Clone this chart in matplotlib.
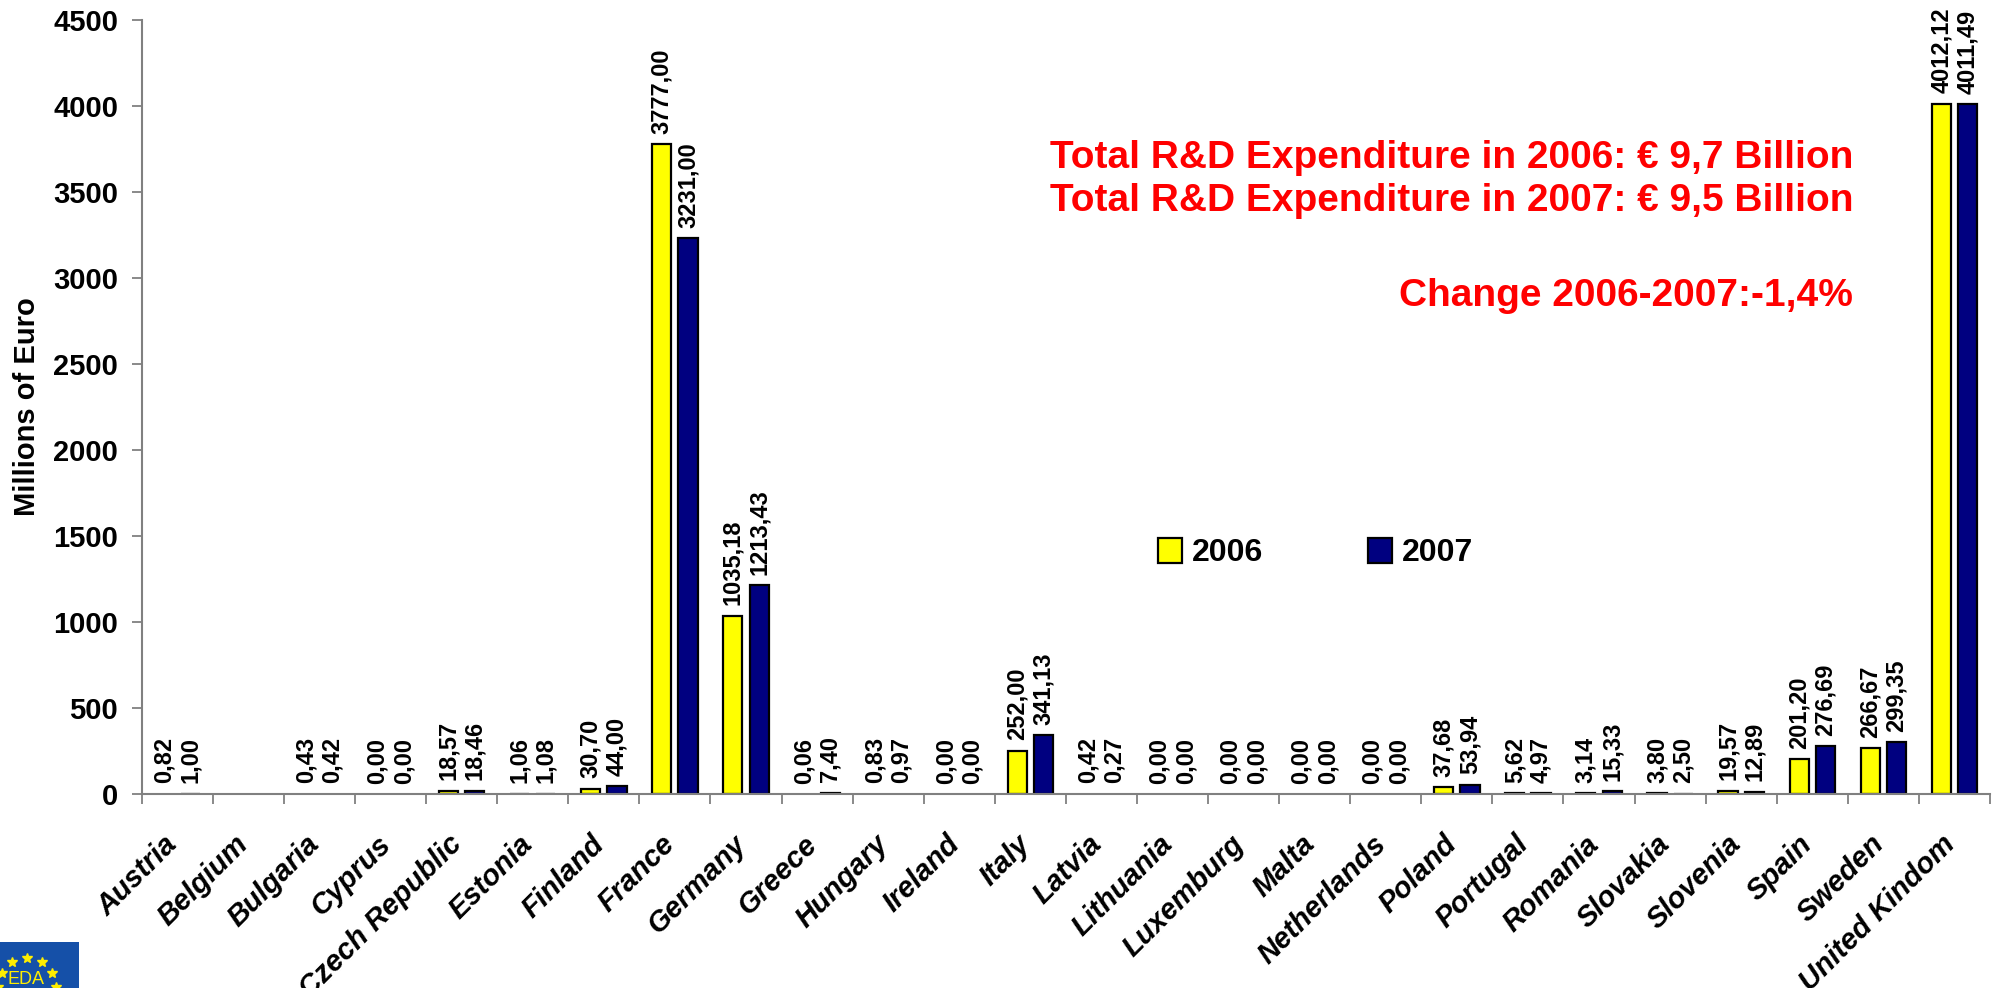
import matplotlib
matplotlib.use('Agg')
import matplotlib.pyplot as plt
import matplotlib.transforms as mtransforms
from matplotlib.patches import Patch
import numpy as np

plt.rcParams['font.family'] = ['Liberation Sans', 'DejaVu Sans']
plt.rcParams['font.weight'] = 'bold'

countries = ['Austria', 'Belgium', 'Bulgaria', 'Cyprus', 'Czech Republic', 'Estonia',
             'Finland', 'France', 'Germany', 'Greece', 'Hungary', 'Ireland', 'Italy',
             'Latvia', 'Lithuania', 'Luxemburg', 'Malta', 'Netherlands', 'Poland',
             'Portugal', 'Romania', 'Slovakia', 'Slovenia', 'Spain', 'Sweden',
             'United Kindom']
# Belgium has no data in the source chart
rd_2006 = [0.82, np.nan, 0.43, 0.00, 18.57, 1.06, 30.70, 3777.00, 1035.18, 0.06, 0.83,
           0.00, 252.00, 0.42, 0.00, 0.00, 0.00, 0.00, 37.68, 5.62, 3.14, 3.80, 19.57,
           201.20, 266.67, 4012.12]
rd_2007 = [1.00, np.nan, 0.42, 0.00, 18.46, 1.08, 44.00, 3231.00, 1213.43, 7.40, 0.97,
           0.00, 341.13, 0.27, 0.00, 0.00, 0.00, 0.00, 53.94, 4.97, 15.33, 2.50, 12.89,
           276.69, 299.35, 4011.49]
years = ['2006', '2007']
colors = ['#FFFF00', '#000080']
notes = ['Total R&D Expenditure in 2006: € 9,7 Billion',
         'Total R&D Expenditure in 2007: € 9,5 Billion',
         'Change 2006-2007:-1,4%']

fig = plt.figure(figsize=(19.93, 9.88), dpi=100)
ax = fig.add_axes([0.0711, 0.1964, 0.9274, 0.7834])

x = np.arange(len(countries))
w = 0.27
off = 0.185
for vals, shift, col in [(rd_2006, -off, colors[0]), (rd_2007, off, colors[1])]:
    v = np.array(vals, dtype=float)
    # tiny values show no bar outline in the original
    lw = np.where(np.nan_to_num(v) >= 1, 1.6, 0)
    ax.bar(x + shift, np.nan_to_num(v), w, color=col, edgecolor='black', linewidth=lw)
    for xi, vi in zip(x + shift, v):
        if np.isnan(vi):
            continue
        ax.annotate(f'{vi:.2f}'.replace('.', ','), (xi, vi), xytext=(0, 7.5),
                    textcoords='offset points', rotation=90, ha='center',
                    va='bottom', fontsize=17, fontweight='bold')

ax.set_xlim(-0.5, len(countries) - 0.5)
ax.set_ylim(0, 4500)
ax.set_yticks(np.arange(0, 4501, 500))
ax.tick_params(axis='y', labelsize=21, length=7, width=1.3, color='#808080', pad=10)
ax.set_xticks(x)
ax.set_xticklabels(countries, rotation=45, ha='right', va='top',
                   rotation_mode='anchor', fontsize=21, fontstyle='italic',
                   fontweight='bold')
ax.tick_params(axis='x', which='major', length=0, pad=26)
shift_lbl = mtransforms.ScaledTranslation(-0.14, 0, fig.dpi_scale_trans)
for lbl in ax.get_xticklabels():
    lbl.set_transform(lbl.get_transform() + shift_lbl)
ax.set_xticks(np.arange(-0.5, len(countries), 1), minor=True)
ax.tick_params(axis='x', which='minor', length=7, width=1.3, color='#808080')
for s in ['top', 'right']:
    ax.spines[s].set_visible(False)
for s in ['left', 'bottom']:
    ax.spines[s].set_color('#808080')
    ax.spines[s].set_linewidth(1.5)
ax.set_ylabel('Millions of Euro', fontsize=21, fontweight='bold')
ax.yaxis.set_label_coords(-0.0545, 0.5)

handles = [Patch(facecolor=c, edgecolor='black', linewidth=1.6, label=y)
           for c, y in zip(colors, years)]
ax.legend(handles=handles, loc='center', bbox_to_anchor=(0.635, 0.311), ncol=2,
          frameon=False, fontsize=23, handlelength=0.75, handleheight=0.8,
          handletextpad=0.3, columnspacing=3.3)

ax.text(0.926, 0.822, notes[0], transform=ax.transAxes, ha='right', va='center',
        color='red', fontsize=28, fontweight='bold')
ax.text(0.926, 0.766, notes[1], transform=ax.transAxes, ha='right', va='center',
        color='red', fontsize=28, fontweight='bold')
ax.text(0.926, 0.643, notes[2], transform=ax.transAxes, ha='right', va='center',
        color='red', fontsize=28, fontweight='bold')

# EDA logo in the bottom left corner
lg = fig.add_axes([0, 0, 79 / 1993, 46 / 988])
lg.set_xlim(0, 79)
lg.set_ylim(46, 0)
lg.set_facecolor('#1550A8')
lg.set_xticks([])
lg.set_yticks([])
for s in lg.spines.values():
    s.set_visible(False)
ang = np.deg2rad(np.arange(180, 361, 30))
lg.plot(27 + 29 * np.cos(ang), 45 + 29 * np.sin(ang), '*', color='#FFEE00',
        markersize=7, linestyle='none')
lg.text(26, 37, 'EDA', color='#FFEE00', fontsize=13, ha='center', va='center',
        fontweight='normal')

fig.savefig('out.png', dpi=100)
